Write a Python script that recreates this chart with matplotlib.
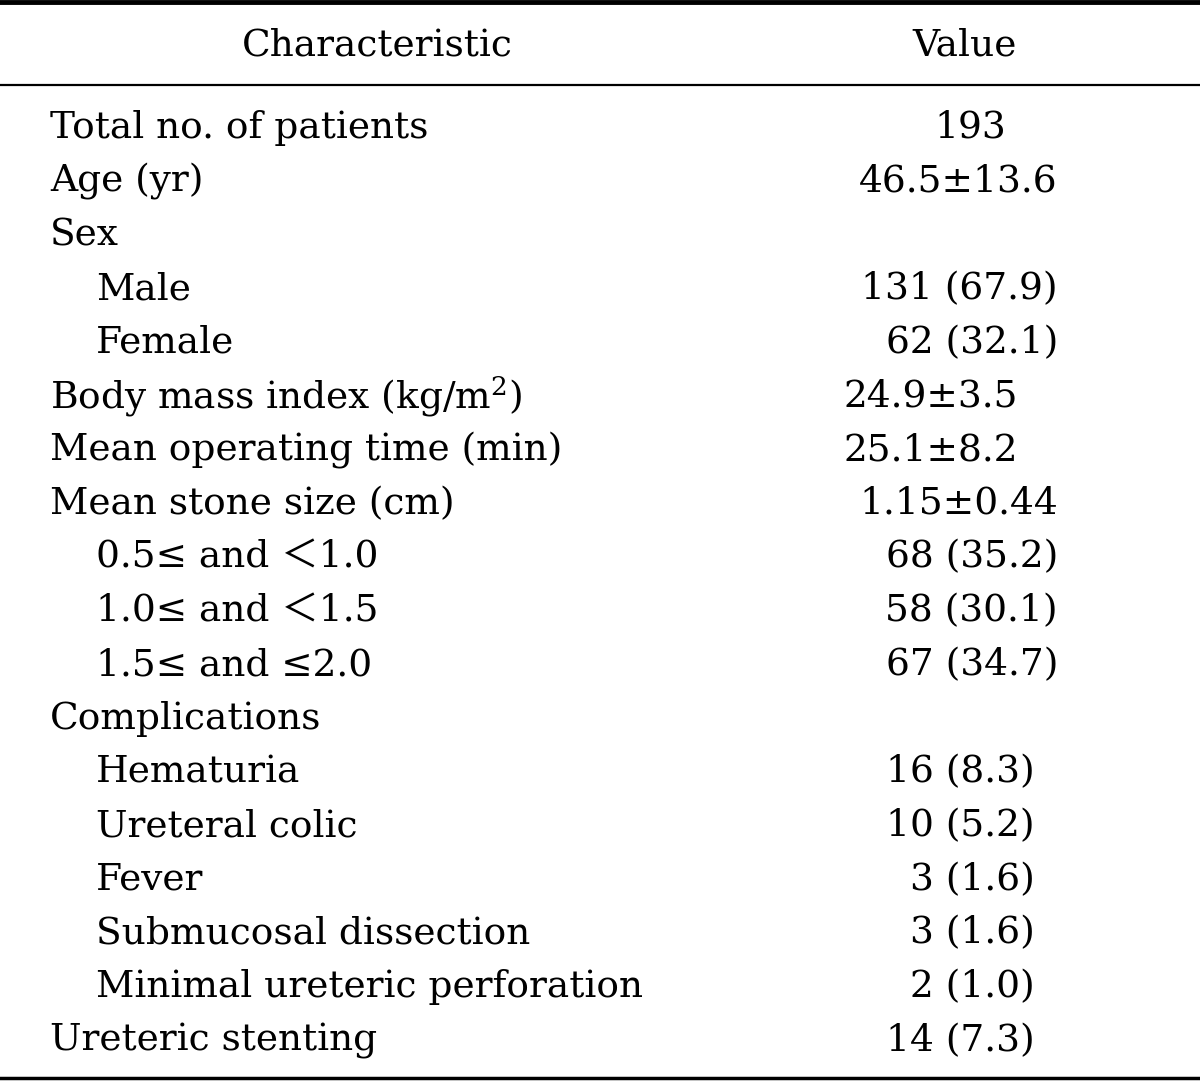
import matplotlib.pyplot as plt

# Datos de la tabla
etiquetas = ["Total no. of patients", "Age (yr)", "Sex", "Male", "Female",
             "Body mass index (kg/m$^2$)", "Mean operating time (min)",
             "Mean stone size (cm)", "0.5\u2264 and \uff1c1.0", "1.0\u2264 and \uff1c1.5",
             "1.5\u2264 and \u22642.0", "Complications", "Hematuria", "Ureteral colic",
             "Fever", "Submucosal dissection", "Minimal ureteric perforation",
             "Ureteric stenting"]
sangria = [0, 0, 0, 1, 1, 0, 0, 0, 1, 1, 1, 0, 1, 1, 1, 1, 1, 0]
valores = ["193", "46.5\u00b113.6", "", "131 (67.9)", "62 (32.1)", "24.9\u00b13.5",
           "25.1\u00b18.2", "1.15\u00b10.44", "68 (35.2)", "58 (30.1)", "67 (34.7)", "",
           "16 (8.3)", "10 (5.2)", "3 (1.6)", "3 (1.6)", "2 (1.0)", "14 (7.3)"]
encabezados = ["Characteristic", "Value"]

# Posicion horizontal de cada valor (x, alineacion)
pos_valor = [(970, "center"), (1058, "right"), (1058, "right"), (1058, "right"),
             (1058, "right"), (843, "left"), (843, "left"), (1058, "right"),
             (1058, "right"), (1058, "right"), (1058, "right"), (1058, "right"),
             (1035, "right"), (1035, "right"), (1035, "right"), (1035, "right"),
             (1035, "right"), (1035, "right")]

plt.rcParams['font.family'] = ['DejaVu Serif', 'Noto Sans CJK JP', 'DejaVu Sans']
plt.rcParams['mathtext.fontset'] = 'dejavuserif'

fig = plt.figure(figsize=(12, 10.82), dpi=100)
ax = fig.add_axes([0, 0, 1, 1])
ax.set_xlim(0, 1200)
ax.set_ylim(1082, 0)
ax.axis('off')

tam = 27
# Lineas horizontales
ax.plot([0, 1200], [2, 2], color='black', lw=3.5)
ax.plot([0, 1200], [85, 85], color='black', lw=1.6)
ax.plot([0, 1200], [1078, 1078], color='black', lw=2.5)

ax.text(377, 45, encabezados[0], fontsize=tam, ha='center', va='center')
ax.text(965, 45, encabezados[1], fontsize=tam, ha='center', va='center')

y0 = 128
paso = 53.7
for i, (et, s, v) in enumerate(zip(etiquetas, sangria, valores)):
    y = y0 + i * paso
    ax.text(50 + 46 * s, y, et, fontsize=tam, ha='left', va='center')
    x, ha = pos_valor[i]
    ax.text(x, y, v, fontsize=tam, ha=ha, va='center')

plt.savefig('out.png', dpi=100)
